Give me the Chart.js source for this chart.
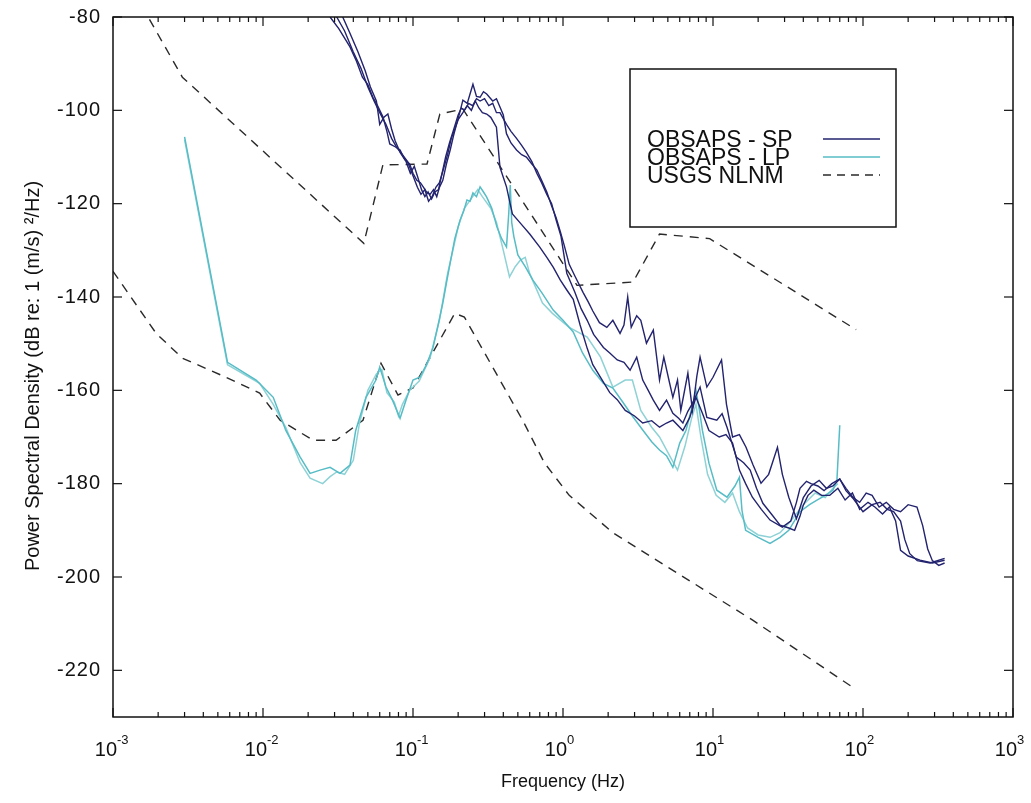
<!DOCTYPE html>
<html>
<head>
<meta charset="utf-8">
<script src="https://cdn.jsdelivr.net/npm/chart.js"></script>
<style>
  html, body { margin: 0; padding: 0; background: #fff; }
  #wrap { width: 1031px; height: 803px; position: relative; }
</style>
</head>
<body>
<div id="wrap"><canvas id="psd"></canvas></div>
<script>
// Noise spectra: OBSAPS short / long period vs the USGS noise models
// values are [frequency Hz, dB re 1 (m/s)^2/Hz]

const xDecades = [-3, -2, -1, 0, 1, 2, 3];
const yTicks = [-80, -100, -120, -140, -160, -180, -200, -220];
const seriesNames = ['OBSAPS - SP', 'OBSAPS - LP', 'USGS NLNM'];

const nlnmUpper = [
  [0.00175, -80.5], [0.0029, -92.9], [0.047, -128.5], [0.063, -111.7], [0.124, -111.5],
  [0.151, -100.8], [0.215, -99.7], [1.24, -137.5], [2.93, -136.8], [4.4, -126.5],
  [9.5, -127.5], [90, -147]
];

const nlnmLower = [
  [0.001, -134.5], [0.00194, -147.8], [0.0029, -153.1], [0.00567, -157.2], [0.0095, -160.6],
  [0.013, -166.4], [0.0216, -170.7], [0.0307, -170.7], [0.0464, -166.4], [0.0612, -154.2],
  [0.0794, -161], [0.1, -159.5], [0.19, -143.5], [0.22, -144.3], [0.54, -166.5],
  [0.75, -175.5], [1.1, -182.5], [2.15, -190.5], [3.8, -195.5], [18.5, -209.3], [86, -223.7]
];

const sp1 = [
  [0.028, -80], [0.032, -82.5], [0.038, -86.4], [0.042, -89.5], [0.046, -92.9], [0.05, -94.5],
  [0.054, -97.2], [0.058, -99], [0.063, -101.4], [0.067, -104.5], [0.07, -107.2], [0.076, -107.8],
  [0.082, -108.5], [0.088, -110.5], [0.095, -111.5], [0.1, -113.5], [0.106, -115], [0.112, -115.5],
  [0.117, -116.4], [0.123, -117.5], [0.13, -118], [0.137, -117], [0.144, -118.5], [0.15, -116.5],
  [0.158, -115], [0.167, -111.5], [0.177, -108.5], [0.186, -105.5], [0.195, -103], [0.205, -100.5],
  [0.215, -97.8], [0.23, -98.5], [0.24, -96.5], [0.251, -94.4], [0.265, -97], [0.28, -97.2],
  [0.295, -96], [0.31, -96.5], [0.34, -98], [0.36, -97.5], [0.38, -99.3], [0.4, -101],
  [0.42, -105], [0.45, -107], [0.49, -108.5], [0.53, -109.5], [0.57, -110], [0.62, -111.5],
  [0.67, -112.8], [0.72, -115], [0.78, -117.5], [0.84, -120.5], [0.9, -123], [0.96, -126],
  [1.02, -129], [1.1, -133], [1.2, -135.5], [1.36, -139], [1.47, -141], [1.58, -143],
  [1.75, -145.5], [1.96, -146.5], [2.15, -145], [2.4, -147.8], [2.55, -146], [2.7, -140],
  [2.85, -146.5], [3.1, -144], [3.3, -145], [3.6, -149.9], [4.0, -147.1], [4.4, -157.8],
  [4.7, -152.9], [5.1, -158], [5.4, -161.5], [5.8, -157.8], [6.1, -164.3], [6.8, -156.3],
  [7.3, -164.3], [7.8, -157], [8.2, -152.9], [9.1, -159.3], [10, -157.2], [11.4, -153.5],
  [12.3, -163], [13.5, -170], [15, -169.5], [16.6, -172.2], [18.5, -176], [20.9, -179.9],
  [23.5, -178], [26.9, -172.2], [29, -178], [32, -182.9], [36, -187.5], [40, -183],
  [45, -180.5], [51, -179.3], [57, -181], [63, -180.5], [70, -179], [77, -181],
  [86, -183], [95, -184], [105, -182], [115, -182.5], [128, -185], [143, -184],
  [160, -185.5], [178, -186], [200, -184.5], [229, -185], [250, -189], [270, -194],
  [290, -196.5], [320, -197.5], [350, -197]
];

const sp2 = [
  [0.034, -80], [0.038, -83.5], [0.043, -87.5], [0.048, -91.5], [0.052, -95], [0.057, -98],
  [0.06, -103], [0.064, -101.5], [0.068, -100.8], [0.072, -104], [0.076, -106.5], [0.082, -109],
  [0.09, -111], [0.096, -113.5], [0.102, -112], [0.108, -114.5], [0.114, -117], [0.12, -118.5],
  [0.126, -117.5], [0.133, -119], [0.14, -117.5], [0.148, -117], [0.155, -114], [0.165, -110],
  [0.175, -107], [0.185, -104.5], [0.2, -101], [0.21, -99.5], [0.22, -100], [0.235, -98.5],
  [0.25, -99], [0.265, -97.5], [0.28, -98], [0.3, -97.5], [0.32, -99], [0.34, -98.5],
  [0.36, -100.5], [0.38, -100.5], [0.42, -103], [0.45, -104.5], [0.49, -106], [0.53, -107.5],
  [0.57, -109], [0.62, -111], [0.67, -113.5], [0.72, -115.5], [0.78, -118], [0.84, -120],
  [0.9, -123.5], [0.97, -127], [1.06, -134.9], [1.2, -139], [1.32, -142.5], [1.45, -145],
  [1.6, -148], [1.86, -150.8], [2.05, -152], [2.3, -153.5], [2.55, -154], [2.8, -155.7],
  [3.1, -152.9], [3.4, -157.8], [3.7, -160], [4.0, -162.1], [4.4, -164.3], [4.9, -162.1],
  [5.4, -164.9], [5.9, -166], [6.3, -167], [6.8, -164.5], [7.3, -162.8], [8.2, -159.3],
  [9.1, -165.8], [10.6, -166.4], [11.5, -165], [12.4, -167.9], [14.3, -174.3], [16, -175.5],
  [17.7, -177.1], [19.5, -181], [21.5, -184.2], [24.5, -186.5], [28, -188.9], [32, -189.5],
  [35, -190], [38, -187], [40, -184.6], [43, -182.5], [47, -181.4], [53, -182.5],
  [60, -182.5], [68, -181], [76, -183.5], [85, -182], [95, -185.5], [108, -184],
  [120, -185], [135, -186.5], [150, -185], [165, -188], [178, -194.3], [200, -195.5],
  [240, -196.4], [290, -197], [350, -196.4]
];

const sp3 = [
  [0.031, -80], [0.035, -83], [0.04, -87.5], [0.045, -91], [0.05, -95], [0.055, -98],
  [0.06, -100.5], [0.066, -103], [0.072, -106], [0.078, -108], [0.085, -109.5], [0.092, -111],
  [0.1, -114], [0.107, -116.5], [0.113, -118], [0.12, -117], [0.127, -119.5], [0.134, -118.5],
  [0.142, -116.5], [0.15, -115.5], [0.16, -112.5], [0.17, -109.5], [0.18, -106], [0.19, -104],
  [0.2, -102], [0.215, -100.5], [0.23, -99], [0.245, -100], [0.26, -98], [0.275, -99.5],
  [0.29, -100.5], [0.31, -100.8], [0.33, -101.5], [0.36, -103.6], [0.38, -112.2], [0.42, -116.4],
  [0.46, -122.2], [0.53, -124.5], [0.6, -126.5], [0.7, -129.3], [0.78, -131.5], [0.86, -133.6],
  [0.96, -136.4], [1.06, -138.5], [1.17, -140.5], [1.3, -146], [1.45, -151], [1.58, -154.5],
  [1.8, -157.5], [2.05, -160.5], [2.3, -162], [2.6, -164.3], [3.0, -165.5], [3.4, -167],
  [3.9, -166.5], [4.4, -167.9], [4.9, -167], [5.4, -166.4], [6.3, -168.6], [7.0, -165.8],
  [7.7, -161.5], [8.5, -164.9], [9.4, -168.6], [11, -170], [12.2, -169.5], [13.5, -171.3],
  [15, -177.1], [16.5, -180], [18.3, -182.9], [21, -185.5], [24, -187.8], [29, -189.3],
  [33, -188], [36, -184], [38, -181], [42, -179.5], [45, -180], [50, -180.5],
  [55, -181.5], [62, -180], [70, -179], [77, -181.5], [85, -183], [100, -186],
  [115, -184.5], [130, -184], [145, -185.5], [160, -186], [178, -188], [190, -192],
  [205, -195], [230, -196.5], [280, -197], [350, -196]
];

const lp1 = [
  [0.003, -105.7], [0.0058, -154], [0.009, -157.8], [0.0117, -161.5], [0.0142, -168.6],
  [0.0177, -174.3], [0.0206, -177.8], [0.024, -177.1], [0.028, -176.5], [0.0326, -177.8],
  [0.038, -176], [0.0415, -168.6], [0.0486, -161.5], [0.0566, -157.8], [0.06, -155],
  [0.066, -159.3], [0.073, -162.1], [0.082, -166], [0.09, -162], [0.1, -157.8],
  [0.111, -157.2], [0.123, -154.5], [0.136, -150.8], [0.147, -146], [0.158, -141.3],
  [0.167, -137], [0.177, -132.7], [0.19, -127.5], [0.206, -123.5], [0.218, -121.5],
  [0.229, -119.2], [0.24, -119.5], [0.251, -117.7], [0.265, -118.5], [0.28, -116.4],
  [0.295, -117.5], [0.31, -118.6], [0.335, -121], [0.363, -125], [0.39, -127.5],
  [0.42, -129.3], [0.435, -122], [0.445, -116], [0.455, -124], [0.47, -127],
  [0.5, -131], [0.56, -133.5], [0.63, -136.4], [0.72, -139], [0.86, -142.8],
  [1.0, -145], [1.17, -147.5], [1.35, -152], [1.58, -155.7], [1.86, -158.5],
  [2.15, -159.5], [2.5, -162.5], [2.9, -165.5], [3.4, -168.5], [3.9, -171],
  [4.4, -172.8], [4.9, -174], [5.4, -176.5], [6.0, -171.3], [6.6, -168.6],
  [7.2, -164], [7.7, -160], [8.1, -164], [8.5, -168.6], [9.4, -175.6],
  [10.6, -181.4], [12.4, -182.9], [14, -180.5], [15, -178.6], [15.6, -185.7],
  [16.5, -190], [20, -191.5], [24, -192.8], [28, -191.5], [32, -190],
  [38, -186], [44, -184.5], [49, -183.6], [56, -182.5], [63, -181.4],
  [67, -179.3], [70, -167.5]
];

const lp2 = [
  [0.003, -106.3], [0.0058, -154.5], [0.0095, -158.5], [0.0117, -163], [0.0142, -168],
  [0.0177, -175.5], [0.0206, -178.8], [0.025, -180], [0.028, -178.5], [0.031, -177.5],
  [0.035, -178], [0.04, -175], [0.044, -167], [0.05, -160], [0.057, -156.5],
  [0.062, -155.5], [0.067, -160.5], [0.075, -162.5], [0.08, -165.5], [0.085, -163],
  [0.095, -160], [0.11, -158], [0.13, -153], [0.15, -145], [0.17, -135],
  [0.2, -125], [0.22, -121], [0.25, -118.5], [0.27, -117], [0.29, -118.5],
  [0.33, -121], [0.36, -124], [0.4, -130], [0.44, -135.7], [0.48, -133.5],
  [0.52, -132.1], [0.56, -131.5], [0.6, -135], [0.73, -141.3], [0.85, -143.5],
  [1.1, -146.5], [1.45, -148.6], [1.78, -152.9], [2.15, -159.3], [2.6, -157.8],
  [2.9, -157.8], [3.3, -164.3], [3.9, -167.9], [4.4, -170], [5.2, -174.3],
  [5.8, -177.1], [6.5, -172], [7.2, -166], [7.7, -163], [8.3, -170],
  [9.2, -178], [10.5, -182.5], [12, -184], [13.5, -182], [15, -186],
  [17, -189.5], [20, -191], [24, -191.5], [28, -190.5], [33, -188],
  [40, -184.5], [48, -182], [56, -183], [63, -181], [68, -180]
];

const NAVY = '#23236f';
const CYAN = '#56bcc6';
const CYAN_LIGHT = '#8ed2d6';
const DASH = '#2a2a2a';
const INK = '#111';

const toXY = arr => arr.map(([f, db]) => ({ x: f, y: db }));

function lineSet(data, color, width, dash) {
    return {
        data: toXY(data),
        borderColor: color,
        borderWidth: width,
        borderDash: dash || [],
        pointRadius: 0,
        tension: 0,
        fill: false
    };
}

// frame, inward ticks, tick labels, axis titles and the boxed legend
const decor = {
    id: 'decor',
    afterDraw(chart) {
        const { ctx, chartArea: a, scales: { x, y } } = chart;
        ctx.save();
        ctx.strokeStyle = INK;
        ctx.lineWidth = 1.5;
        ctx.strokeRect(a.left, a.top, a.right - a.left, a.bottom - a.top);

        const seg = (x1, y1, x2, y2) => {
            ctx.beginPath(); ctx.moveTo(x1, y1); ctx.lineTo(x2, y2); ctx.stroke();
        };

        ctx.lineWidth = 1.2;
        xDecades.forEach(e => {
            for (let m = 1; m < 10; m++) {
                if (e === xDecades[xDecades.length - 1] && m > 1) break;
                const px = x.getPixelForValue(m * Math.pow(10, e));
                const len = m === 1 ? 9 : 5;
                seg(px, a.bottom, px, a.bottom - len);
                seg(px, a.top, px, a.top + len);
            }
        });
        yTicks.forEach(v => {
            const py = y.getPixelForValue(v);
            seg(a.left, py, a.left + 9, py);
            seg(a.right, py, a.right - 9, py);
        });

        // y tick labels
        ctx.fillStyle = INK;
        ctx.font = '20px "Liberation Sans", Arial, sans-serif';
        ctx.letterSpacing = '1px';
        ctx.textAlign = 'right';
        ctx.textBaseline = 'middle';
        yTicks.forEach(v => ctx.fillText(String(v), a.left - 12, y.getPixelForValue(v)));
        ctx.letterSpacing = '0px';

        // x tick labels 10^n
        ctx.textBaseline = 'alphabetic';
        xDecades.forEach(e => {
            const px = x.getPixelForValue(Math.pow(10, e));
            ctx.font = '20px "Liberation Sans", Arial, sans-serif';
            ctx.textAlign = 'right';
            ctx.fillText('10', px + 4, a.bottom + 39);
            ctx.font = '13px "Liberation Sans", Arial, sans-serif';
            ctx.textAlign = 'left';
            ctx.fillText(String(e), px + 4, a.bottom + 27);
        });

        // axis titles
        ctx.font = '18px "Liberation Sans", Arial, sans-serif';
        ctx.textAlign = 'center';
        ctx.fillText('Frequency (Hz)', (a.left + a.right) / 2, a.bottom + 70);
        ctx.save();
        ctx.translate(39, 376);
        ctx.rotate(-Math.PI / 2);
        ctx.font = '20px "Liberation Sans", Arial, sans-serif';
        ctx.fillText('Power Spectral Density (dB re: 1 (m/s) \u00b2/Hz)', 0, 0);
        ctx.restore();

        // legend box
        const lx = a.left + 517, ly = a.top + 52, lw = 266, lh = 158;
        ctx.fillStyle = '#fff';
        ctx.fillRect(lx, ly, lw, lh);
        ctx.strokeStyle = INK;
        ctx.lineWidth = 1.5;
        ctx.strokeRect(lx, ly, lw, lh);
        const rows = [
            { color: NAVY, dash: [] },
            { color: CYAN, dash: [] },
            { color: DASH, dash: [8, 6] }
        ];
        ctx.fillStyle = INK;
        ctx.font = '23px "Liberation Sans", Arial, sans-serif';
        ctx.textAlign = 'left';
        rows.forEach((r, i) => {
            const base = ly + 78 + i * 18;
            ctx.fillText(seriesNames[i], lx + 17, base);
            ctx.strokeStyle = r.color;
            ctx.lineWidth = 1.6;
            ctx.setLineDash(r.dash);
            seg(lx + 193, base - 8, lx + 250, base - 8);
        });
        ctx.setLineDash([]);
        ctx.restore();
    }
};

new Chart(document.getElementById('psd').getContext('2d'), {
    type: 'line',
    data: {
        datasets: [
            lineSet(sp1, NAVY, 1.4),
            lineSet(sp2, NAVY, 1.4),
            lineSet(sp3, NAVY, 1.4),
            lineSet(lp1, CYAN, 1.5),
            lineSet(lp2, CYAN_LIGHT, 1.5),
            lineSet(nlnmUpper, DASH, 1.4, [9, 7]),
            lineSet(nlnmLower, DASH, 1.4, [9, 7])
        ]
    },
    options: {
        responsive: true,
        maintainAspectRatio: false,
        animation: false,
        layout: { padding: { left: 113, right: 18, top: 17, bottom: 86 } },
        scales: {
            x: { type: 'logarithmic', min: 0.001, max: 1000, display: false },
            y: { type: 'linear', min: -230, max: -80, display: false }
        },
        plugins: {
            legend: { display: false },
            tooltip: { enabled: false }
        }
    },
    plugins: [decor]
});
</script>
</body>
</html>
